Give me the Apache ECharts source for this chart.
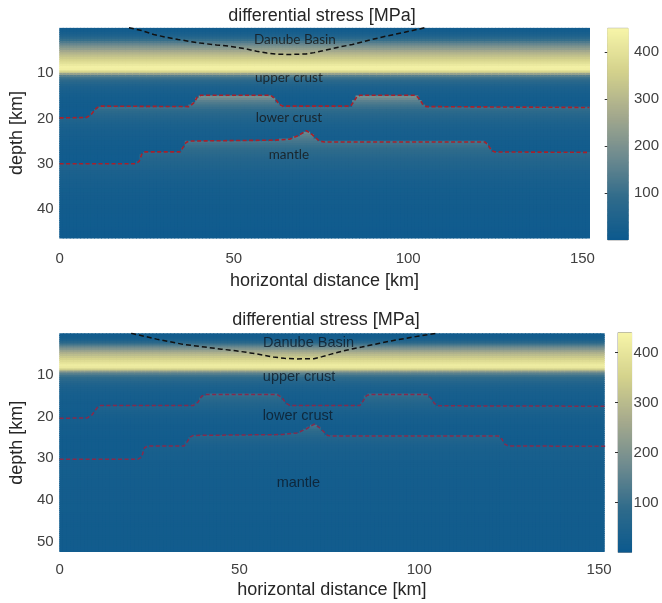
<!DOCTYPE html>
<html><head><meta charset="utf-8">
<script src="https://cdn.jsdelivr.net/npm/echarts@6/dist/echarts.min.js"></script>
<style>html,body{margin:0;padding:0;background:#fff}#c{width:662px;height:603px}</style>
</head><body><div id="c"></div>
<script>
// ---------- tick labels ----------
const xTicks = [0, 50, 100, 150];
const yTicksTop = [10, 20, 30, 40];
const yTicksBottom = [10, 20, 30, 40, 50];
const cbTicks = [100, 200, 300, 400];

// ---------- layer boundaries (x km, depth km) ----------
const conradX = [0, 7.7, 9, 10.5, 11.5, 37.2, 38.5, 39.5, 40.5, 60.5, 61.8, 63, 64, 83.5, 84.5, 85.3, 86.2, 102.2, 103.3, 104.3, 105.2, 152];
const conradDTop = [19.9, 19.8, 19.2, 17.8, 17.3, 17.4, 16.6, 15.3, 14.9, 14.9, 15.6, 16.9, 17.3, 17.3, 16.2, 15.2, 14.9, 14.9, 15.8, 17.0, 17.4, 17.6];
const conradDBottom = [20.4, 20.3, 19.6, 17.8, 17.3, 17.3, 16.5, 15.1, 14.7, 14.7, 15.4, 16.8, 17.3, 17.3, 16.1, 15.0, 14.7, 14.7, 15.6, 16.9, 17.4, 17.5];
const mohoX = [0, 21.8, 22.8, 23.6, 24.5, 34.6, 35.5, 36.3, 37.2, 62, 66, 68.5, 70.8, 72.5, 74.5, 76, 122, 123, 123.8, 124.8, 152];
const mohoDTop = [30.0, 30.0, 29.5, 27.9, 27.4, 27.4, 26.3, 25.3, 25.0, 24.8, 24.6, 23.8, 22.7, 23.6, 25.0, 25.2, 25.2, 25.9, 27.0, 27.4, 27.5];
const mohoDBottom = [30.2, 30.2, 29.7, 27.5, 27.05, 27.05, 26.0, 24.9, 24.5, 24.3, 23.9, 23.0, 21.8, 22.8, 24.5, 24.65, 24.65, 25.4, 26.6, 27.05, 27.1];
const basinX = [19.9, 23.5, 27, 30.5, 34, 40.4, 45, 49, 53, 56.5, 59.5, 62.5, 66, 70.7, 73, 75.5, 80, 84, 89, 93.5, 99, 104.8];
const basinDTop = [0, 0.6, 1.5, 2.1, 2.6, 3.4, 3.8, 4.1, 4.6, 5.2, 5.6, 5.85, 5.9, 5.8, 5.5, 5.1, 4.3, 3.7, 2.7, 1.9, 1.0, 0];
const basinDBottom = [0, 0.7, 1.4, 2.0, 2.6, 3.3, 3.8, 4.2, 4.7, 5.2, 5.7, 6.0, 6.15, 6.1, 5.6, 5.0, 4.0, 3.3, 2.4, 1.6, 0.8, 0];

// ---------- differential stress [MPa] per 0.5 km depth row ----------
const upperStart = 0, lowerStart = 14.5, mantleStart = 21.5;
const upperTop = [15,20,30,45,70,100,135,170,205,235,265,295,320,345,370,395,420,440,435,370,240,145,105,82,65,52,42,35,30,26,23,21,19,18,17,16,15,15,14,14,13,13];
const lowerTop = [215,195,172,150,132,116,102,90,79,70,62,55,49,44,39,35,32,29,27,25,23,21,20,19,18,17,16,15,15,14,14,13,13];
const mantleTop = [215,200,185,170,155,142,130,119,109,100,92,85,79,73,67,62,57,53,49,45,42,39,36,33,31,29,27,25,24,23,22,21,20,19,18,17,17,16,16,15,15,14,14,13,13,12,12,11,11,10,10];
const upperBottom = [15,20,28,45,75,115,160,200,240,275,305,330,355,378,400,420,410,340,220,145,110,88,72,60,50,43,38,34,31,28,26,24,22,21,20,19,18,18,17,17,16,16];
const lowerBottom = [100,88,77,68,60,53,47,42,38,34,31,28,26,24,22,21,20,19,18,18,17,17,16,16,16,15,15,15,15,14,14,14,14];
const mantleBottom = [130,115,102,90,80,71,63,56,50,45,41,38,35,33,31,29,28,27,26,25,24,24,23,23,22,22,22,21,21,21,20,20,20,20,19,19,19,19,18,18,18,18,18,17,17,17,17,17,16,16,16,16,16,15,15,15,15,15,15,14,14,14,14];

// ---------- text labels ----------
const labelNames = ['Danube Basin', 'upper crust', 'lower crust', 'mantle'];
const labelXTop = [67.5, 65.8, 65.8, 65.8];
const labelDTop = [2.65, 11.0, 19.8, 28.0];
const labelXBottom = [69.2, 66.6, 66.2, 66.4];
const labelDBottom = [2.25, 10.6, 19.9, 35.8];

// ---------- helpers ----------
const NCOLS = 152, DZ = 0.5;
function depthAt(xs, ds, x) {
  if (x <= xs[0]) return ds[0];
  for (let k = 1; k < xs.length; k++) {
    if (x <= xs[k]) { const t = (x - xs[k-1]) / (xs[k] - xs[k-1]); return ds[k-1] + t * (ds[k] - ds[k-1]); }
  }
  return ds[ds.length - 1];
}
function pick(arr, start, top) {
  let k = Math.round((top - start) / DZ);
  k = Math.max(0, Math.min(arr.length - 1, k));
  return arr[k];
}
function buildField(xMax, nRows, conD, mohD, up, lo, ma) {
  const data = [];
  const w = xMax / NCOLS;
  for (let i = 0; i < NCOLS; i++) {
    const x0 = i * w, x1 = (i + 1) * w, xc = (i + 0.5) * w;
    const cz = depthAt(conradX, conD, xc), mz = depthAt(mohoX, mohD, xc);
    for (let r = 0; r < nRows; r++) {
      const top = r * DZ, dc = top + DZ / 2;
      let v;
      if (dc < cz) v = pick(up, upperStart, top);
      else if (dc < mz) v = pick(lo, lowerStart, top);
      else v = pick(ma, mantleStart, top);
      data.push([x0, x1, top, top + DZ, v]);
    }
  }
  return data;
}
function cbData(max) { const d = []; const n = Math.round(max / 2.5); for (let j = 0; j < n; j++) d.push([0, 1, j * 2.5, (j + 1) * 2.5, (j + 0.5) * 2.5]); return d; }
function pairs(xs, ds) { return xs.map((x, i) => [x, ds[i]]); }
function labelData(xs, ds) { return labelNames.map((n, i) => ({ name: n, value: [xs[i], ds[i]] })); }

function cellRender(params, api) {
  const a = api.coord([api.value(0), api.value(2)]);
  const b = api.coord([api.value(1), api.value(3)]);
  return { type: 'rect',
    shape: { x: Math.min(a[0], b[0]) - 0.3, y: Math.min(a[1], b[1]) - 0.3,
             width: Math.abs(b[0] - a[0]) + 0.9, height: Math.abs(b[1] - a[1]) + 0.9 },
    style: { fill: api.visual('color') } };
}
function fieldSeries(xi, yi, data) {
  return { type: 'custom', xAxisIndex: xi, yAxisIndex: yi, data: data, renderItem: cellRender,
    encode: { x: [0, 1], y: [2, 3] }, clip: true, silent: true, progressive: 0, animation: false };
}

const cmap = ['#0c598e', '#2f6b8b', '#6f8b8f', '#a6aa8d', '#d4d28c', '#f6f4a8'];
const FONT = 'Liberation Sans, Arial, sans-serif';
const tickColor = '#404040';

const topXMax = 152, topYMax = 46.5, topRows = 93;
const botXMax = 151.4, botYMax = 52.5, botRows = 105;

const hidden = { show: false };
function valX(grid, max, gap, margin) {
  return { type: 'value', gridIndex: grid, min: 0, max: max, position: 'bottom',
    name: 'horizontal distance [km]', nameLocation: 'middle', nameGap: gap,
    nameTextStyle: { fontSize: 18, color: '#262626', fontFamily: FONT },
    axisLine: hidden, axisTick: hidden, splitLine: hidden,
    axisLabel: { customValues: xTicks, fontSize: 15, color: tickColor, fontFamily: FONT, margin: margin } };
}
function valY(grid, max, ticks, gap) {
  return { type: 'value', gridIndex: grid, min: 0, max: max, inverse: true, position: 'left',
    name: 'depth [km]', nameLocation: 'middle', nameGap: gap,
    nameTextStyle: { fontSize: 18, color: '#262626', fontFamily: FONT },
    axisLine: hidden, axisTick: hidden, splitLine: hidden,
    axisLabel: { customValues: ticks, fontSize: 15, color: tickColor, fontFamily: FONT, margin: 6 } };
}
function cbX(grid) { return { type: 'value', gridIndex: grid, min: 0, max: 1, show: false }; }
function cbY(grid, max, margin) {
  return { type: 'value', gridIndex: grid, min: 0, max: max, position: 'right',
    axisLine: hidden, splitLine: hidden,
    axisTick: { show: true, inside: true, length: 3, customValues: cbTicks, lineStyle: { color: '#333' } },
    axisLabel: { customValues: cbTicks, fontSize: 15, color: tickColor, fontFamily: FONT, margin: margin } };
}
function lineSeries(xi, yi, data, color, width, dash) {
  return { type: 'line', xAxisIndex: xi, yAxisIndex: yi, data: data, symbol: 'none', silent: true,
    lineStyle: { color: color, width: width, type: dash }, z: 5, clip: true, animation: false };
}
function labelSeries(xi, yi, data, font, size, color) {
  return { type: 'scatter', xAxisIndex: xi, yAxisIndex: yi, data: data, symbolSize: 0, silent: true, z: 6,
    label: { show: true, position: 'inside', formatter: '{b}', fontFamily: font, fontSize: size, color: color } };
}

const chart = echarts.init(document.getElementById('c'), null, { renderer: 'canvas' });
chart.setOption({
  animation: false,
  backgroundColor: '#fff',
  title: [
    { text: 'differential stress [MPa]', left: 322, top: 7, textAlign: 'center', padding: 0,
      textStyle: { fontSize: 18, fontWeight: 'normal', color: '#262626', fontFamily: FONT } },
    { text: 'differential stress [MPa]', left: 326, top: 311, textAlign: 'center', padding: 0,
      textStyle: { fontSize: 18, fontWeight: 'normal', color: '#262626', fontFamily: FONT } }
  ],
  grid: [
    { left: 55, top: 27.7, width: 534.4, height: 210.8 },
    { left: 607.7, top: 28.3, width: 21.3, height: 211.7, show: true, borderColor: '#a0a0a0', borderWidth: 1 },
    { left: 48.3, top: 333.3, width: 555.8, height: 218.8 },
    { left: 618, top: 332.5, width: 13.6, height: 220, show: true, borderColor: '#a0a0a0', borderWidth: 1 }
  ],
  xAxis: [
    valX(0, topXMax, 34, 13),
    cbX(1),
    valX(2, botXMax, 29, 10),
    cbX(3)
  ],
  yAxis: [
    valY(0, topYMax, yTicksTop, 28),
    cbY(1, 450, 6),
    valY(2, botYMax, yTicksBottom, 26),
    cbY(3, 440, 2)
  ],
  visualMap: [
    { type: 'continuous', show: false, min: 0, max: 450, dimension: 4, seriesIndex: [0, 1], inRange: { color: cmap } },
    { type: 'continuous', show: false, min: 0, max: 440, dimension: 4, seriesIndex: [2, 3], inRange: { color: cmap } }
  ],
  series: [
    fieldSeries(0, 0, buildField(topXMax, topRows, conradDTop, mohoDTop, upperTop, lowerTop, mantleTop)),
    fieldSeries(1, 1, cbData(450)),
    fieldSeries(2, 2, buildField(botXMax, botRows, conradDBottom, mohoDBottom, upperBottom, lowerBottom, mantleBottom)),
    fieldSeries(3, 3, cbData(440)),
    lineSeries(0, 0, pairs(conradX, conradDTop), '#a8202a', 1.6, [4, 2.5]),
    lineSeries(0, 0, pairs(mohoX, mohoDTop), '#a8202a', 1.6, [4, 2.5]),
    lineSeries(0, 0, pairs(basinX, basinDTop), '#111111', 1.5, [5, 3]),
    lineSeries(2, 2, pairs(conradX, conradDBottom), '#862a4c', 1.5, [4, 2.5]),
    lineSeries(2, 2, pairs(mohoX, mohoDBottom), '#862a4c', 1.5, [4, 2.5]),
    lineSeries(2, 2, pairs(basinX, basinDBottom), '#111111', 1.5, [5, 3]),
    labelSeries(0, 0, labelData(labelXTop, labelDTop), 'Lato, Open Sans, sans-serif', 13.5, '#151515'),
    labelSeries(2, 2, labelData(labelXBottom, labelDBottom), FONT, 14.5, '#0d1a28')
  ]
});
</script>
</body></html>
